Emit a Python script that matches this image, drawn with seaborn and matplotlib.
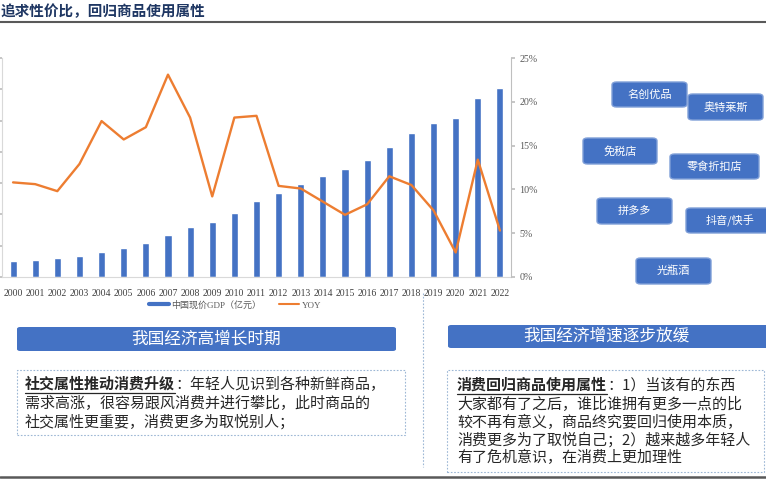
import numpy as np
import pandas as pd
import matplotlib
matplotlib.use("Agg")
import matplotlib.pyplot as plt
import seaborn as sns
from matplotlib.patches import Rectangle, FancyBboxPatch
from matplotlib.lines import Line2D
from matplotlib.ticker import FuncFormatter

# ---------------- data ----------------
years = [str(y) for y in range(2000, 2023)]
gdp = [100280, 110863, 121717, 137422, 161840, 187319, 219439, 270092, 319245,
       348518, 412119, 487940, 538580, 592963, 643563, 688858, 746395, 832036,
       919281, 986515, 1013567, 1143670, 1210207]
yoy = [10.8, 10.6, 9.8, 12.9, 17.8, 15.7, 17.1, 23.1, 18.2, 9.2, 18.2, 18.4,
       10.4, 10.1, 8.6, 7.1, 8.3, 11.5, 10.5, 7.6, 2.8, 13.4, 5.3]
gdp_label = "中国现价GDP（亿元）"
yoy_label = "YOY"
title = "追求性价比，回归商品使用属性"
left_header = "我国经济高增长时期"
right_header = "我国经济增速逐步放缓"
left_prefix = "社交属性推动消费升级"
left_lines = ["：年轻人见识到各种新鲜商品，",
              "需求高涨，很容易跟风消费并进行攀比，此时商品的",
              "社交属性更重要，消费更多为取悦别人；"]
right_prefix = "消费回归商品使用属性"
right_lines = ["：1）当该有的东西",
               "大家都有了之后，谁比谁拥有更多一点的比",
               "较不再有意义，商品终究要回归使用本质，",
               "消费更多为了取悦自己；2）越来越多年轻人",
               "有了危机意识，在消费上更加理性"]
brands = ["名创优品", "奥特莱斯", "免税店", "零食折扣店", "拼多多", "抖音/快手", "光瓶酒"]

# layout of brand boxes in pixels (x0, x1, y0, y1)
brand_boxes = [(612, 687, 82, 107), (688, 763, 94, 120), (583, 657, 138, 164),
               (670, 759, 154, 179), (597, 672, 198, 224), (686, 774, 208, 233),
               (636, 711, 258, 284)]

W, H = 766, 480
BLUE = "#4472C4"
ORANGE = "#ED7D31"

sns.set_theme(style="white")
plt.rcParams['font.family'] = ['Noto Sans CJK SC', 'DejaVu Sans']

fig = plt.figure(figsize=(W / 100, H / 100), dpi=100)


def fx(x):
    return x / W


def fy(y):
    return 1 - y / H


# ---------------- chart ----------------
ax = fig.add_axes([fx(2), fy(277), (511 - 2) / W, (277 - 58) / H])
df = pd.DataFrame({"year": years, "gdp": gdp, "yoy": yoy})
sns.barplot(data=df, x="year", y="gdp", color=BLUE, saturation=1, width=0.32, ax=ax)
ax.set_ylim(0, 1400000)
ax.set_yticks(np.arange(0, 1400001, 200000))
ax.set_xlim(-0.5, len(years) - 0.5)
ax.set_xlabel("")
ax.set_ylabel("")
ax.tick_params(axis='y', left=True, length=3, color="#BFBFBF", labelleft=False)
ax.tick_params(axis='x', bottom=False, pad=3, labelsize=7.0, labelcolor="#404040")
for lab in ax.get_xticklabels():
    lab.set_fontfamily(['Liberation Serif'])
for s in ["top", "right"]:
    ax.spines[s].set_visible(False)
for s in ["left", "bottom"]:
    ax.spines[s].set_color("#D9D9D9")
    ax.spines[s].set_linewidth(0.8)

ax2 = ax.twinx()
sns.lineplot(x=np.arange(len(years)), y=np.array(yoy) / 100, color=ORANGE,
             linewidth=1.7, ax=ax2)
ax2.set_ylim(0, 0.25)
ax2.set_yticks(np.arange(0, 0.2501, 0.05))
ax2.yaxis.set_major_formatter(FuncFormatter(lambda v, p: f"{v*100:.0f}%"))
ax2.tick_params(axis='y', right=True, length=3, color="#BFBFBF", pad=3,
                labelsize=7.2, labelcolor="#595959")
for lab in ax2.get_yticklabels():
    lab.set_fontfamily(['Liberation Serif'])
for s in ["top", "left", "bottom"]:
    ax2.spines[s].set_visible(False)
ax2.spines["right"].set_color("#BFBFBF")
ax2.spines["right"].set_linewidth(0.8)
ax2.set_xlim(-0.5, len(years) - 0.5)

handles = [Line2D([0], [0], color=BLUE, lw=3), Line2D([0], [0], color=ORANGE, lw=1.5)]
fig.legend(handles, [gdp_label, yoy_label], loc="center",
           bbox_to_anchor=(fx(235), fy(305)), ncol=2, frameon=False,
           handlelength=2.2, handletextpad=0.3, columnspacing=2.0,
           prop={'family': ['Liberation Serif', 'Noto Sans CJK SC'], 'size': 6.5},
           labelcolor="#595959")

# ---------------- title ----------------
fig.text(fx(0), fy(11), title, fontsize=10.5, fontweight='bold', color="#1F3763",
         va='center', ha='left')
fig.add_artist(Line2D([0, 1], [fy(21.5), fy(21.5)], color="#595959", lw=1.5))
fig.add_artist(Line2D([0, 1], [fy(477), fy(477)], color="#595959", lw=1.8))

# vertical dotted separator
fig.add_artist(Line2D([fx(423.5), fx(423.5)], [fy(293), fy(467)], color="#9DB7D5",
                      lw=0.8, ls=(0, (1.5, 1.5))))

# ---------------- headers ----------------
for (x0, x1, y0, y1, tx, txt) in [(17, 396, 327, 351, 206, left_header),
                                  (448, 772, 325, 348, 606, right_header)]:
    fig.add_artist(FancyBboxPatch((fx(x0), fy(y1)), fx(x1) - fx(x0), fy(y0) - fy(y1),
                                  boxstyle="round,pad=0,rounding_size=0.004",
                                  facecolor=BLUE, edgecolor="none",
                                  transform=fig.transFigure))
    fig.text(fx(tx), fy((y0 + y1) / 2), txt, color="white", fontsize=12,
             ha='center', va='center')

# ---------------- dashed text boxes ----------------
for (x0, x1, y0, y1) in [(17, 405, 370, 435), (447, 764, 370, 472)]:
    fig.add_artist(Rectangle((fx(x0), fy(y1)), fx(x1) - fx(x0), fy(y0) - fy(y1),
                             facecolor="none", edgecolor="#9DB7D5", lw=0.8,
                             ls=(0, (1.5, 1.5)), transform=fig.transFigure))

renderer = fig.canvas.get_renderer()
TEXTC = "#262626"
FS = 10.8


def write_block(x, ys, prefix, lines):
    t = fig.text(fx(x), fy(ys[0]), prefix, fontsize=FS, fontweight='bold',
                 color=TEXTC, ha='left', va='center')
    bb = t.get_window_extent(renderer)
    x_end = bb.x1
    ul_y = bb.y0 - 1
    fig.add_artist(Line2D([bb.x0 / W, bb.x1 / W], [ul_y / H, ul_y / H],
                          color=TEXTC, lw=0.9))
    fig.text(x_end / W, fy(ys[0]), lines[0], fontsize=FS, color=TEXTC,
             ha='left', va='center')
    for yy, line in zip(ys[1:], lines[1:]):
        fig.text(fx(x), fy(yy), line, fontsize=FS, color=TEXTC, ha='left', va='center')


write_block(25, [384, 403, 422], left_prefix, left_lines)
write_block(457, [385, 404, 422, 440, 457], right_prefix, right_lines)

# ---------------- brand boxes ----------------
for (x0, x1, y0, y1), name in zip(brand_boxes, brands):
    fig.add_artist(FancyBboxPatch((fx(x0), fy(y1)), fx(x1) - fx(x0), fy(y0) - fy(y1),
                                  boxstyle="round,pad=0,rounding_size=0.006",
                                  facecolor=BLUE, edgecolor="#7F9FD8", lw=1,
                                  transform=fig.transFigure))
    fig.text(fx((x0 + x1) / 2), fy((y0 + y1) / 2), name, color="white", fontsize=8,
             ha='center', va='center')

fig.savefig("out.png", dpi=100)
